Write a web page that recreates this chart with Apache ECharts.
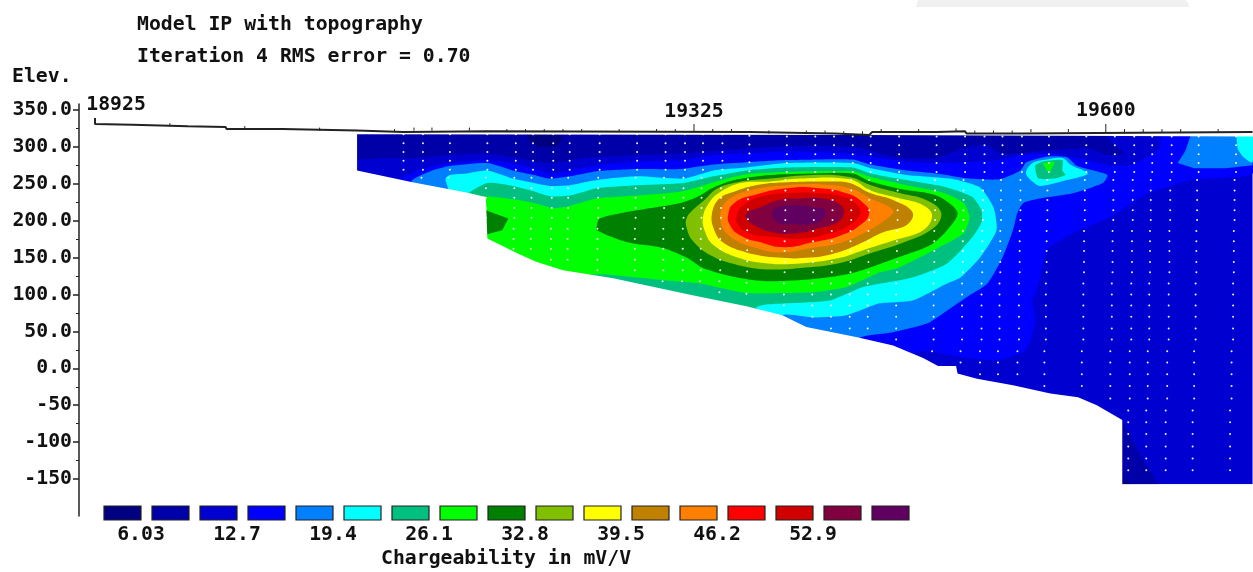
<!DOCTYPE html>
<html>
<head>
<meta charset="utf-8">
<script src="https://cdn.jsdelivr.net/npm/echarts@6/dist/echarts.min.js"></script>
<style>html,body{margin:0;padding:0;background:#fff}#c{width:1253px;height:572px}</style>
</head>
<body>
<div id="c"></div>
<script>
const titleLines = ["Model IP with topography", "Iteration 4 RMS error = 0.70"];
const yName = "Elev.";
const legendName = "Chargeability in mV/V";
const legendColors = ["#000080","#0000a8","#0000d0","#0000ff","#0080ff","#00ffff","#00c080","#00ff00","#008000","#80c000","#ffff00","#c08000","#ff8000","#ff0000","#d00000","#800040","#600060"];
const legendLabels = ["6.03","12.7","19.4","26.1","32.8","39.5","46.2","52.9"];
const yTickValues = [350,300,250,200,150,100,50,0,-50,-100,-150];
const yTickLabels = ["350.0","300.0","250.0","200.0","150.0","100.0","50.0","0.0","-50","-100","-150"];
const yMinorValues = [325,275,225,175,125,75,25,-25,-75,-125];
const xTickValues = [18925,19325,19600];
const xTickElev = [330,320,320];
const xTickLabels = ["18925","19325","19600"];

// topography (distance, elevation)
const topography = [[18925,339],[18925,331],[18950,330],[18951,328],[18987,328],[18988,327],[19012,327],[19013,324],[19050,324],[19051,322],[19100,322],[19101,320],[19131,320],[19132,322],[19187,321],[19188,320],[19362,320],[19363,318],[19419,318],[19420,316],[19442,316],[19444,320],[19487,320],[19488,321],[19506,321],[19507,318],[19543,318],[19544,320],[19698,320]];
const electrodeX = [18975,19025,19075,19125,19138,19150,19175,19200,19212.5,19225,19237.5,19250,19275,19300,19312.5,19325,19337.5,19350,19375,19400,19412.5,19425,19437.5,19450,19475,19500,19512.5,19525,19537.5,19550,19575,19600,19612.5,19625,19637.5,19650,19675];
const electrodeBase = [328,324,322,320,322,322,322,320,320,320,320,320,320,320,320,320,320,320,318,318,318,317,317,320,320,321,318,318,318,320,320,320,320,320,320,320,320];

// datum points
const dotColumnX = [19131,19144,19162,19187,19206,19217.5,19231,19242,19262,19287,19306,19319,19331,19344,19362,19387,19406,19418.5,19431,19443,19462,19487,19506,19519,19531,19544,19562,19587,19606,19619,19631,19644,19662,19687];
const dotColumnRows = [5,6,6,11,13,13,14,14,15,15,16,16,16,17,17,18,19,20,20,20,21,22,23,24,24,24,25,25,26,32,32,32,32,32];
const dotColumnLift = [3,3,3,3,3,3,3,3,3,3,3,3,3,3,1,0,0,0,0,0,0,0,0,0,0,0,0,0,0,0,0,0,0,0];
const dotRowElev = [314,302,290,278,266,255,241,228,214,201,186,172,159,144,130,115,100,85,70,54,39,23,8,-8,-24,-41,-57,-73,-89,-106,-122,-138];
const dotRowDrift = [0,0,0,0,0,-1,-1,-1,-1,-1,-1.5,-1.5,-1.5,-1.5,-1.5,-2,-2,-2,-2,-2,-2,-3,-3,-3,-3,-3,-4,-4,-4,-4,-4,-4];

// chargeability bands as outlines (distance, elevation)
const band3Section = [[19095,323],[19698,323],[19698,-157],[19095,-157]];
const band2Top = [[19095,323],[19598,323],[19603,308],[19612,291],[19601,289],[19588,298],[19558,295],[19543,291],[19529,291],[19521,302],[19507,299],[19487,285],[19463,285],[19449,291],[19436,299],[19391,301],[19338,295],[19318,291],[19287,289],[19251,285],[19229,278],[19207,285],[19187,291],[19162,289],[19140,285],[19118,285],[19095,285]];
const band1Patch = [[19214,316],[19236,316],[19234,302],[19219,302]];
const band2Deep = [[19611,-70],[19623,-118],[19635,-157],[19611,-157]];
const band1Deep = [[19611,-148],[19617,-157],[19611,-157]];
const band4 = [[19109,-43],[19112,255],[19129,257],[19140,268],[19153,275],[19167,279],[19187,282],[19202,278],[19218,271],[19229,264],[19242,268],[19260,275],[19287,280],[19318,282],[19338,289],[19360,291],[19391,294],[19427,291],[19449,285],[19476,278],[19506,279],[19529,282],[19543,289],[19563,291],[19581,285],[19603,275],[19618,276],[19636,298],[19638,317],[19698,317],[19698,264],[19658,255],[19628,237],[19605,207],[19578,183],[19561,160],[19554,106],[19551,92],[19553,69],[19549,34],[19545,22],[19527,11],[19505,15],[19473,22],[19463,-43]];
const band5 = [[19132,-43],[19132,228],[19137,255],[19149,267],[19162,274],[19187,278],[19204,268],[19218,262],[19229,257],[19242,260],[19260,267],[19287,270],[19316,270],[19338,276],[19360,279],[19387,282],[19431,283],[19443,276],[19467,268],[19487,264],[19509,257],[19529,256],[19543,268],[19547,279],[19561,287],[19574,286],[19581,274],[19601,262],[19598,251],[19578,237],[19556,230],[19545,224],[19541,211],[19538,187],[19531,150],[19521,115],[19509,99],[19496,81],[19481,61],[19458,49],[19434,39],[19429,-43]];
const band5Right = [[19658,323],[19653,294],[19648,278],[19659,271],[19680,271],[19698,275],[19698,323]];
const band6Right = [[19688,323],[19688,298],[19692,286],[19698,279],[19698,323]];
const band6 = [[19159,257],[19162,262],[19173,264],[19187,268],[19204,257],[19218,251],[19229,247],[19242,248],[19260,255],[19287,260],[19318,257],[19338,268],[19360,272],[19387,278],[19431,278],[19443,271],[19467,262],[19496,257],[19516,245],[19525,218],[19527,187],[19516,150],[19503,123],[19494,115],[19471,92],[19449,88],[19427,72],[19405,69],[19384,72],[19376,38],[19162,38],[19161,241]];
const band6Lobe = [[19547,268],[19551,278],[19558,282],[19571,285],[19577,275],[19588,264],[19574,255],[19556,247],[19551,253],[19547,262]];
const band7 = [[19174,237],[19187,251],[19204,247],[19218,240],[19229,233],[19242,234],[19260,244],[19287,248],[19318,251],[19338,260],[19360,268],[19387,272],[19431,272],[19443,264],[19467,255],[19494,245],[19511,232],[19517,214],[19517,198],[19511,178],[19494,142],[19471,123],[19438,110],[19416,92],[19387,88],[19367,83],[19362,51],[19175,51],[19174,234]];
const band7Lobe = [[19553,275],[19558,280],[19571,282],[19571,268],[19573,262],[19565,257],[19555,257],[19553,268]];
const band8 = [[19182,230],[19204,229],[19218,224],[19231,217],[19242,220],[19260,230],[19287,234],[19318,240],[19338,252],[19360,263],[19387,266],[19431,267],[19443,259],[19467,248],[19491,238],[19505,224],[19509,205],[19505,183],[19485,160],[19461,136],[19449,130],[19427,110],[19405,103],[19382,102],[19360,102],[19329,115],[19307,119],[19287,123],[19256,126],[19256,92],[19182,92]];
const band8Lobe = [[19558,278],[19566,280],[19563,267],[19561,267]];
const band9 = [[19260,192],[19262,203],[19287,214],[19316,224],[19327,232],[19338,245],[19354,256],[19376,262],[19405,264],[19431,264],[19443,253],[19463,243],[19487,234],[19501,211],[19494,187],[19483,167],[19461,150],[19431,129],[19405,121],[19374,118],[19354,123],[19331,136],[19320,150],[19304,163],[19280,171],[19260,187]];
const band9Left = [[19182,217],[19201,203],[19197,187],[19182,179]];
const band10 = [[19320,203],[19324,214],[19332,228],[19340,243],[19354,252],[19376,257],[19405,262],[19429,259],[19443,248],[19463,237],[19480,228],[19490,211],[19485,190],[19463,169],[19443,156],[19421,142],[19396,136],[19374,134],[19354,140],[19336,153],[19324,173],[19320,191]];
const band11 = [[19331,205],[19335,224],[19342,238],[19356,251],[19376,253],[19396,257],[19429,256],[19443,241],[19463,230],[19478,221],[19484,207],[19478,187],[19458,173],[19438,160],[19421,149],[19396,142],[19374,142],[19354,150],[19338,167],[19332,187]];
const band12 = [[19337,210],[19342,230],[19354,241],[19369,249],[19387,252],[19414,253],[19429,251],[19443,237],[19458,228],[19471,211],[19467,194],[19451,184],[19436,169],[19421,157],[19403,150],[19381,150],[19360,157],[19344,171],[19338,190]];
const band13 = [[19343,214],[19349,230],[19362,241],[19387,248],[19411,249],[19429,244],[19443,230],[19458,214],[19454,203],[19438,183],[19421,169],[19403,163],[19382,157],[19365,164],[19351,176],[19344,191]];
const band14 = [[19348,210],[19352,224],[19364,234],[19387,244],[19409,244],[19427,237],[19438,224],[19442,210],[19436,194],[19423,180],[19405,171],[19385,164],[19369,171],[19356,180],[19349,194]];
const band15 = [[19354,210],[19358,221],[19369,232],[19387,237],[19409,237],[19425,232],[19434,221],[19436,210],[19429,194],[19416,183],[19396,176],[19378,178],[19362,183],[19354,196]];
const band16 = [[19360,210],[19369,218],[19382,228],[19396,230],[19411,230],[19423,221],[19425,210],[19421,198],[19409,190],[19394,183],[19378,184],[19365,194],[19360,203]];
const band17 = [[19377,210],[19381,218],[19391,221],[19405,218],[19413,213],[19411,203],[19405,196],[19391,195],[19381,198]];

// everything outside the modelled section
const outsideSection = [[19698.3,314],[19440,316],[19100,317],[19100,268],[19137,252],[19173,238],[19186,232],[19187,176],[19207,156],[19220,144],[19237.5,133],[19271,122],[19324,99],[19360,84],[19384,72],[19400,56],[19434,42],[19458,31],[19478,14],[19488,3],[19500,3],[19501,-7],[19514,-14],[19538,-23],[19563,-34],[19581.5,-39],[19594,-50],[19611,-70],[19611,-157],[19698.3,-157],[19698.3,-200],[18914.3,-200],[18914.3,358],[19698.3,358]];

const paintOrder = [
  [band3Section,2,0],[band2Top,1,0.2],[band1Patch,0,0.3],[band2Deep,1,0],[band1Deep,0,0],
  [band4,3,0.2],[band5,4,0.2],[band5Right,4,0],[band6Right,5,0.2],[band6,5,0.2],[band6Lobe,5,0.3],
  [band7,6,0.2],[band7Lobe,6,0.2],[band8,7,0.2],[band8Lobe,7,0],[band9,8,0.3],[band9Left,8,0],
  [band10,9,0.4],[band11,10,0.4],[band12,11,0.4],[band13,12,0.4],[band14,13,0.5],[band15,14,0.5],[band16,15,0.5],[band17,16,0.5]
];

const FONT = '"DejaVu Sans Mono"';
const textStyle = {fontFamily: FONT, fontWeight: 'bold', fontSize: 19.8, color: '#111'};
const textFont = `bold 19.8px ${FONT}`;

function polygonSeries(outline, fill, smooth) {
  return {
    type: 'custom', coordinateSystem: 'cartesian2d', silent: true, animation: false,
    encode: {x: 0, y: 1}, data: outline,
    renderItem(params, api) {
      if (params.dataIndex !== 0) return null;
      return {type: 'polygon', shape: {points: outline.map(p => api.coord(p)), smooth}, style: {fill}};
    }
  };
}

const dots = [];
dotColumnX.forEach((x, c) => {
  for (let r = 0; r < dotColumnRows[c]; r++) dots.push([x + dotRowDrift[r], dotRowElev[r] + dotColumnLift[c]]);
});

const series = paintOrder.map(([o, i, s]) => polygonSeries(o, legendColors[i], s));
series.push(polygonSeries(outsideSection, '#ffffff', 0));
series.push({type: 'scatter', data: dots, symbol: 'circle', symbolSize: 2, silent: true, animation: false,
  itemStyle: {color: '#ffffff', opacity: 0.95}});
series.push({type: 'line', data: topography, showSymbol: false, silent: true, animation: false,
  lineStyle: {color: '#222', width: 2}});
series.push({type: 'custom', coordinateSystem: 'cartesian2d', silent: true, animation: false,
  data: electrodeX.map((x, i) => [x, electrodeBase[i]]), encode: {x: 0, y: 1},
  renderItem(params, api) {
    const x = api.value(0);
    const p = api.coord([x, api.value(1)]);
    const h = xTickValues.includes(x) ? 8 : 3;
    return {type: 'line', shape: {x1: p[0], y1: p[1], x2: p[0], y2: p[1] - h}, style: {stroke: '#222', lineWidth: 1}};
  }});
series.push({type: 'scatter', symbolSize: 0, silent: true, animation: false, clip: false,
  itemStyle: {opacity: 1},
  data: xTickValues.map((x, i) => ({
    value: [x, xTickElev[i]],
    label: {show: true, formatter: xTickLabels[i], position: 'top', distance: 0,
      offset: i === 0 ? [21, -10] : (i === 1 ? [0, -10] : [0, -11]), ...textStyle}
  }))});

const graphic = [
  {type: 'polygon', silent: true, shape: {points: [[918,0],[1186,0],[1190,7],[916,7]]}, style: {fill: '#f0f0f0'}, z: 100},
  {type: 'text', left: 12, top: 67, z: 100, style: {text: yName, font: textFont, fill: '#111'}},
  {type: 'text', left: 137, top: 15, z: 100, style: {text: titleLines[0], font: textFont, fill: '#111'}},
  {type: 'text', left: 137, top: 47, z: 100, style: {text: titleLines[1], font: textFont, fill: '#111'}},
  {type: 'text', left: 381, top: 549, z: 100, style: {text: legendName, font: textFont, fill: '#111'}}
];
legendColors.forEach((c, i) => graphic.push({type: 'rect', silent: true, z: 100,
  shape: {x: 104 + i * 48, y: 506, width: 37, height: 14},
  style: {fill: c, stroke: '#222', lineWidth: 1.2}}));
legendLabels.forEach((t, i) => graphic.push({type: 'text', silent: true, z: 100,
  x: 141 + i * 96, y: 535,
  style: {text: t, font: textFont, fill: '#111', align: 'center', verticalAlign: 'middle'}}));

const chart = echarts.init(document.getElementById('c'), null, {renderer: 'canvas'});
chart.setOption({
  animation: false,
  backgroundColor: '#ffffff',
  grid: {left: 79, right: 0, top: 104, bottom: 56, containLabel: false},
  xAxis: {type: 'value', min: 18914.3, max: 19698.3, show: false},
  yAxis: [
    {type: 'value', min: -200, max: 358, position: 'left', z: 10, splitLine: {show: false},
     axisLine: {show: true, lineStyle: {color: '#222', width: 1.5}},
     axisTick: {show: true, length: 6, customValues: yTickValues, lineStyle: {color: '#222', width: 1.5}},
     axisLabel: {show: true, margin: 7, customValues: yTickValues, padding: [2, 0, 0, 0],
       formatter: v => yTickLabels[yTickValues.indexOf(v)] ?? '', ...textStyle}},
    {type: 'value', min: -200, max: 358, position: 'left', z: 10, splitLine: {show: false},
     axisLine: {show: false},
     axisTick: {show: true, length: 3, customValues: yMinorValues, lineStyle: {color: '#222', width: 1}},
     axisLabel: {show: false}}
  ],
  series,
  graphic
});
</script>
</body>
</html>
